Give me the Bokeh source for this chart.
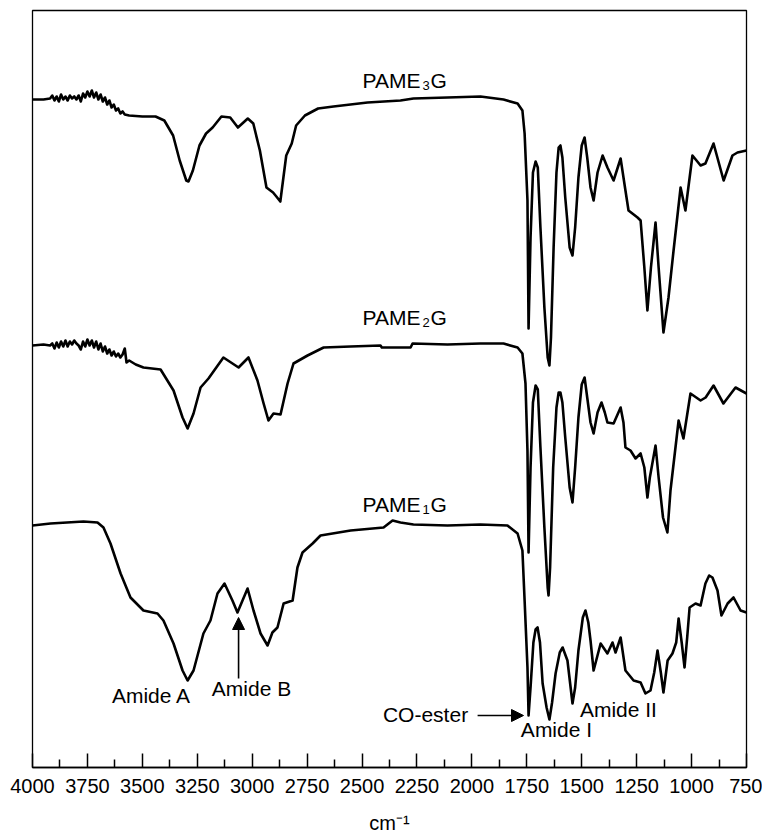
from bokeh.plotting import figure
from bokeh.models import Range1d, FixedTicker, Label, Arrow, NormalHead
from bokeh.embed import file_html
from bokeh.resources import INLINE

# ---------------- data (wavenumber cm-1, transmittance a.u. with vertical offsets) -------------
pame3g_wn = [4000, 3950, 3920, 3910, 3900, 3890, 3880, 3870, 3860, 3850, 3840, 3830, 3820, 3810,
             3800, 3790, 3780, 3770, 3760, 3750, 3740, 3730, 3720, 3710, 3700, 3690, 3680, 3670,
             3660, 3650, 3640, 3630, 3620, 3610, 3600, 3590, 3580, 3560, 3500, 3440, 3400, 3360,
             3330, 3300, 3290, 3270, 3240, 3210, 3180, 3140, 3100, 3065, 3020, 2995, 2965, 2935,
             2905, 2890, 2872, 2845, 2820, 2800, 2760, 2700, 2630, 2475, 2325, 2266, 2111, 1961,
             1856, 1792, 1770, 1760, 1747, 1742, 1733, 1722, 1710, 1700, 1688, 1670, 1655, 1647,
             1640, 1628, 1615, 1605, 1597, 1588, 1575, 1555, 1542, 1530, 1515, 1500, 1487, 1475,
             1460, 1446, 1428, 1405, 1383, 1355, 1323, 1301, 1287, 1246, 1232, 1215, 1201, 1185,
             1164, 1150, 1128, 1105, 1082, 1050, 1028, 996, 959, 937, 900, 854, 814, 791, 750]
pame3g_t = [668, 668, 669, 672, 667, 671, 666, 673, 668, 671, 667, 672, 669, 671,
            668, 672, 666, 674, 670, 676, 671, 677, 670, 675, 668, 673, 666, 670,
            663, 667, 660, 663, 657, 659, 654, 656, 653, 652, 651, 651, 647, 632,
            607, 587, 586, 597, 622, 634, 640, 651, 650, 640, 649, 644, 617, 580,
            575, 571, 566, 612, 624, 642, 652, 659, 661, 665, 667, 669, 670, 671,
            668, 664, 657, 634, 567, 439, 530, 595, 606, 600, 540, 460, 410, 402,
            430, 520, 595, 620, 622, 610, 570, 520, 512, 540, 590, 622, 630, 610,
            580, 567, 595, 612, 600, 587, 609, 577, 557, 550, 547, 500, 457, 500,
            545, 500, 435, 470, 517, 580, 557, 612, 602, 604, 624, 587, 612, 615, 617]

pame2g_wn = [4000, 3950, 3920, 3910, 3900, 3890, 3880, 3870, 3860, 3850, 3840, 3830, 3820, 3810,
             3800, 3790, 3780, 3770, 3760, 3750, 3740, 3730, 3720, 3710, 3700, 3690, 3680, 3670,
             3660, 3650, 3640, 3630, 3620, 3610, 3600, 3590, 3580, 3572, 3560, 3530, 3495, 3417,
             3358, 3317, 3294, 3267, 3235, 3199, 3131, 3062, 3017, 2976, 2948, 2926, 2903, 2871,
             2839, 2812, 2748, 2675, 2552, 2416, 2410, 2279, 2270, 2111, 1961, 1856, 1792, 1770,
             1756, 1747, 1742, 1733, 1722, 1710, 1700, 1688, 1670, 1655, 1651, 1644, 1630, 1615,
             1605, 1597, 1588, 1575, 1555, 1542, 1530, 1515, 1500, 1487, 1475, 1460, 1446, 1428,
             1410, 1395, 1383, 1355, 1323, 1310, 1301, 1278, 1255, 1232, 1215, 1201, 1190, 1164,
             1150, 1130, 1110, 1096, 1059, 1037, 1005, 959, 936, 900, 855, 800, 750]
pame2g_t = [422, 423, 422, 424, 419, 425, 420, 426, 421, 427, 421, 426, 423, 427,
            424, 422, 418, 426, 421, 428, 422, 427, 420, 426, 418, 424, 416, 421,
            414, 418, 412, 416, 411, 414, 410, 413, 419, 405, 407, 403, 400, 398,
            377, 350, 339, 354, 380, 389, 410, 400, 410, 387, 364, 347, 354, 353,
            384, 404, 412, 420, 421, 422, 420, 420, 424, 423, 424, 424, 420, 414,
            384, 317, 215, 300, 365, 382, 378, 320, 240, 180, 172, 200, 300, 360,
            375, 375, 365, 330, 280, 265, 300, 350, 383, 390, 370, 345, 334, 355,
            365, 355, 345, 344, 360, 345, 320, 317, 309, 314, 300, 270, 290, 322,
            290, 250, 235, 277, 347, 329, 374, 367, 370, 382, 364, 380, 374]

pame1g_wn = [4000, 3918, 3768, 3704, 3677, 3645, 3599, 3554, 3495, 3431, 3404, 3358, 3317, 3294,
             3267, 3222, 3190, 3158, 3126, 3090, 3067, 3021, 2994, 2962, 2930, 2908, 2885, 2857,
             2816, 2794, 2771, 2725, 2689, 2552, 2402, 2361, 2325, 2266, 2111, 1961, 1838, 1792,
             1770, 1760, 1747, 1742, 1733, 1720, 1710, 1701, 1690, 1678, 1660, 1647, 1635, 1619,
             1600, 1587, 1565, 1542, 1530, 1515, 1495, 1483, 1470, 1460, 1446, 1414, 1383, 1360,
             1346, 1323, 1301, 1264, 1232, 1210, 1187, 1170, 1155, 1140, 1128, 1109, 1087, 1070,
             1059, 1045, 1032, 1020, 1009, 982, 959, 937, 920, 905, 882, 864, 836, 809, 777, 750]
pame1g_t = [242, 244, 246, 245, 240, 224, 194, 170, 157, 154, 147, 124, 97, 87,
            97, 134, 147, 174, 184, 167, 155, 179, 157, 134, 122, 135, 140, 164,
            167, 200, 215, 224, 232, 237, 240, 247, 245, 243, 242, 243, 242, 234,
            217, 167, 100, 52, 80, 125, 138, 140, 125, 84, 60, 48, 65, 94,
            115, 120, 107, 64, 80, 117, 150, 157, 145, 127, 97, 124, 114, 125,
            115, 130, 97, 87, 85, 74, 77, 95, 117, 95, 75, 107, 114, 125,
            149, 125, 100, 130, 160, 164, 162, 184, 192, 190, 177, 152, 164, 170, 157, 155]

x_ticks = [4000, 3750, 3500, 3250, 3000, 2750, 2500, 2250, 2000, 1750, 1500, 1250, 1000, 750]
x_minor = [3875, 3625, 3375, 3125, 2875, 2625, 2375, 2125, 1875, 1625, 1375, 1125, 875]

sample_names = ["PAME", "PAME", "PAME"]
sample_subs = ["3", "2", "1"]
label_wn = [2498, 2498, 2498]
label_t = [687, 450, 263]

annot_text = ["Amide A", "Amide B", "CO-ester", "Amide I", "Amide II"]
annot_wn = [3458, 3003, 2211, 1615, 1333]
annot_t = [72, 79, 53, 38, 58]

FONT = "Liberation Sans"

p = figure(width=762, height=840, output_backend="svg", toolbar_location=None,
           x_range=Range1d(4000, 750), y_range=Range1d(0, 757),
           y_axis_location=None, min_border_left=32, min_border_right=16,
           min_border_top=10, min_border_bottom=73)
p.xgrid.visible = False
p.ygrid.visible = False
p.outline_line_color = "black"
p.outline_line_width = 1.3
p.background_fill_color = "white"
p.border_fill_color = "white"

ax = p.xaxis[0]
ax.ticker = FixedTicker(ticks=x_ticks, minor_ticks=x_minor)
ax.major_tick_in = 14
ax.major_tick_out = 0
ax.minor_tick_in = 8
ax.minor_tick_out = 0
ax.axis_line_width = 1.5
ax.major_tick_line_width = 1.5
ax.minor_tick_line_width = 1.5
ax.major_label_text_font = FONT
ax.major_label_text_font_size = "20px"
ax.major_label_text_color = "black"
ax.major_label_standoff = 11
ax.axis_label = "cm\u207b\u00b9"
ax.axis_label_text_font = FONT
ax.axis_label_text_font_size = "20px"
ax.axis_label_text_font_style = "normal"
ax.axis_label_text_color = "black"
ax.axis_label_standoff = 16

for wn, t in [(pame3g_wn, pame3g_t), (pame2g_wn, pame2g_t), (pame1g_wn, pame1g_t)]:
    p.line(wn, t, line_color="black", line_width=2.6, line_join="round")

# sample labels with subscripts
for name, sub, x, y in zip(sample_names, sample_subs, label_wn, label_t):
    p.add_layout(Label(x=x, y=y, text=name, text_font=FONT, text_font_size="21px",
                       text_color="black", text_align="left", text_baseline="alphabetic"))
    p.add_layout(Label(x=x, y=y, text=sub, text_font=FONT, text_font_size="13px",
                       text_color="black", text_align="left", text_baseline="alphabetic",
                       x_offset=60, y_offset=-5))
    p.add_layout(Label(x=x, y=y, text="G", text_font=FONT, text_font_size="21px",
                       text_color="black", text_align="left", text_baseline="alphabetic",
                       x_offset=68))

for txt, x, y in zip(annot_text, annot_wn, annot_t):
    p.add_layout(Label(x=x, y=y, text=txt, text_font=FONT, text_font_size="21px",
                       text_color="black", text_align="center", text_baseline="middle"))

p.add_layout(Arrow(end=NormalHead(size=12, fill_color="black", line_color="black"),
                   x_start=3062, y_start=89, x_end=3062, y_end=150, line_width=1.6))
p.add_layout(Arrow(end=NormalHead(size=12, fill_color="black", line_color="black"),
                   x_start=1974, y_start=52, x_end=1765, y_end=52, line_width=1.6))

open("out.html", "w").write(file_html(p, INLINE))
